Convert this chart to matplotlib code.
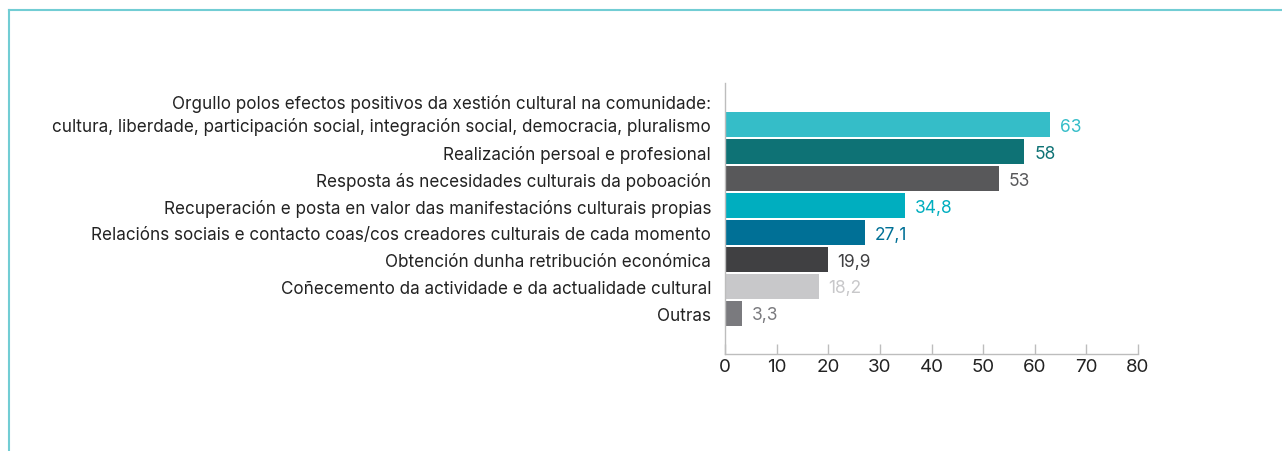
import matplotlib
matplotlib.use('Agg')
import matplotlib.pyplot as plt
from matplotlib.lines import Line2D

plt.rcParams['font.family'] = ['Inter', 'DejaVu Sans']

# Categories top to bottom
categories = [
    'Orgullo polos efectos positivos da xestión cultural na comunidade:\n'
    'cultura, liberdade, participación social, integración social, democracia, pluralismo',
    'Realización persoal e profesional',
    'Resposta ás necesidades culturais da poboación',
    'Recuperación e posta en valor das manifestacións culturais propias',
    'Relacións sociais e contacto coas/cos creadores culturais de cada momento',
    'Obtención dunha retribución económica',
    'Coñecemento da actividade e da actualidade cultural',
    'Outras',
]
values = [63, 58, 53, 34.8, 27.1, 19.9, 18.2, 3.3]
value_labels = ['63', '58', '53', '34,8', '27,1', '19,9', '18,2', '3,3']
bar_colors = ['#35bdc8', '#0e7275', '#58585a', '#00aebf',
              '#007096', '#404042', '#c8c8ca', '#7a7a7e']
label_colors = ['#35bdc8', '#0e7275', '#58585a', '#00aebf',
                '#007096', '#404042', '#c8c8ca', '#7a7a7e']
xticks = [0, 10, 20, 30, 40, 50, 60, 70, 80]

W, H = 1282, 452
fig = plt.figure(figsize=(W / 100, H / 100), dpi=100)
ax = fig.add_axes([725 / W, (H - 355) / H, (1138 - 725) / W, (355 - 84) / H])

ypos = list(range(len(values)))
ax.barh(ypos, values, height=0.92, color=bar_colors, zorder=2)

for y, v, lab, c in zip(ypos, values, value_labels, label_colors):
    ax.annotate(lab, xy=(v, y), xytext=(7, -1), textcoords='offset points',
                ha='left', va='center', fontsize=12.5, color=c)

for y, cat in zip(ypos, categories):
    dy = 7.5 if '\n' in cat else -1.5
    ax.annotate(cat, xy=(0, y), xytext=(-10, dy), textcoords='offset points',
                ha='right', va='center', fontsize=12.3, color='#222222',
                linespacing=1.32)

ax.set_ylim(len(values) - 0.5 + 1.0, -0.5 - 1.05)
ax.set_xlim(0, 80)
ax.set_xticks(xticks)
ax.set_xticklabels([str(t) for t in xticks], fontsize=13.5, color='#222222')
ax.set_yticks([])
ax.tick_params(axis='x', direction='in', length=7, width=1, color='#bdbdbd', pad=3)
for s in ['top', 'right']:
    ax.spines[s].set_visible(False)
for s in ['left', 'bottom']:
    ax.spines[s].set_color('#bdbdbd')
    ax.spines[s].set_linewidth(1)

# teal frame around the panel
frame_color = '#72cdd4'
fig.add_artist(Line2D([8.5 / W, 8.5 / W], [0, 1 - 10.5 / H], transform=fig.transFigure,
                      color=frame_color, lw=1.5))
fig.add_artist(Line2D([8.5 / W, 1], [1 - 10.5 / H, 1 - 10.5 / H], transform=fig.transFigure,
                      color=frame_color, lw=1.5))

fig.savefig('out.png', dpi=100)
